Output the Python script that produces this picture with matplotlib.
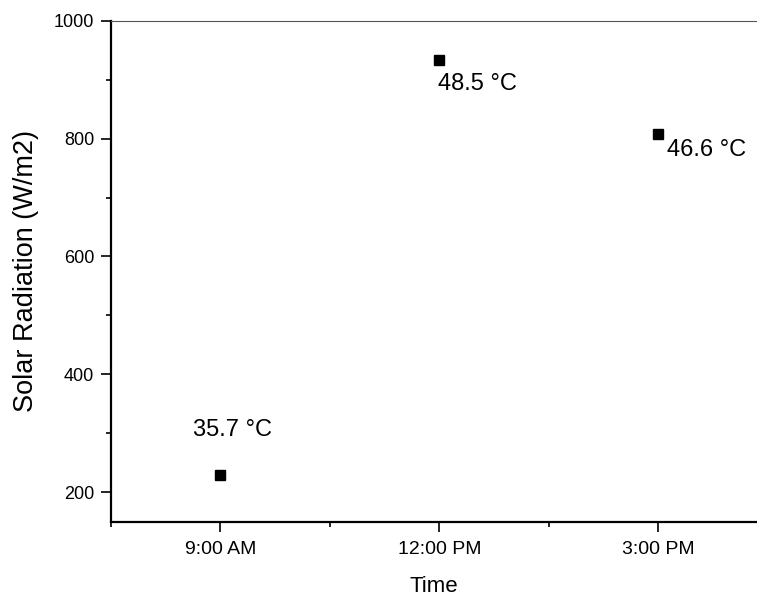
import matplotlib
matplotlib.use("Agg")
import matplotlib.pyplot as plt
from matplotlib.ticker import MultipleLocator

# Data
times = ["9:00 AM", "12:00 PM", "3:00 PM"]
radiation = [230, 933, 807]
temps = ["35.7 °C", "48.5 °C", "46.6 °C"]

plt.rcParams['font.family'] = ['Liberation Sans', 'DejaVu Sans']

fig = plt.figure(figsize=(7.57, 5.99), dpi=100)
ax = fig.add_axes([0.1466, 0.129, 1.0 - 0.1466, 0.9654 - 0.129])

pos = list(range(1, len(times) + 1))
ax.plot(pos, radiation, linestyle='none', marker='s', markersize=7, color='black')

# temperature labels next to each point (offset in points, alignment)
offsets = [(8.5, 24, 'center', 'bottom'), (-1, -9.5, 'left', 'top'), (6, -3, 'left', 'top')]
for x, y, t, (dx, dy, ha, va) in zip(pos, radiation, temps, offsets):
    ax.annotate(t, (x, y), xytext=(dx, dy), textcoords='offset points',
                ha=ha, va=va, fontsize=17)

ax.set_xlim(0.5, 3.45)
ax.set_ylim(150, 1000)
ax.set_xticks(pos)
ax.set_xticklabels(times)
ax.xaxis.set_minor_locator(MultipleLocator(0.5))
ax.yaxis.set_major_locator(MultipleLocator(200))
ax.yaxis.set_minor_locator(MultipleLocator(100))

ax.set_xlabel("Time", fontsize=16, labelpad=13)
ax.set_ylabel("Solar Radiation (W/m2)", fontsize=19.5, labelpad=11)

ax.tick_params(axis='both', which='major', length=7, width=1.2, pad=5, direction='out')
ax.tick_params(axis='x', which='major', labelsize=14, pad=7)
ax.tick_params(axis='y', which='major', labelsize=13)
ax.tick_params(axis='both', which='minor', length=3.5, width=1.2, direction='out')

ax.spines['left'].set_linewidth(1.6)
ax.spines['bottom'].set_linewidth(1.6)
ax.spines['top'].set_linewidth(0.8)
ax.spines['top'].set_color('#555555')
ax.spines['right'].set_visible(False)

fig.savefig("out.png", dpi=100)
